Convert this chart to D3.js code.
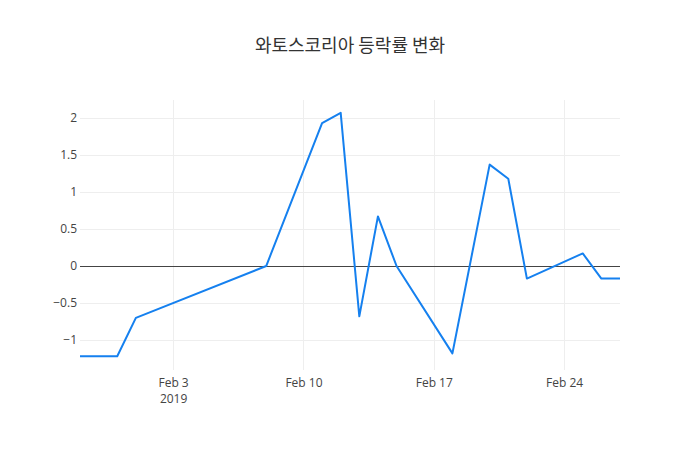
<!DOCTYPE html>
<html><head><meta charset="utf-8">
<script src="https://cdn.jsdelivr.net/npm/d3@7"></script>
<style>body{margin:0;background:#fff}svg{display:block}</style>
</head><body><svg id="c" width="700" height="450"></svg>
<script>
const title = "와토스코리아 등락률 변화";
const dates = ["2019-01-29","2019-01-31","2019-02-01","2019-02-08","2019-02-11","2019-02-12","2019-02-13","2019-02-14","2019-02-15","2019-02-18","2019-02-20","2019-02-21","2019-02-22","2019-02-25","2019-02-26","2019-02-27"];
const values = [-1.22,-1.22,-0.70,0.0,1.93,2.07,-0.68,0.67,0.0,-1.18,1.37,1.18,-0.17,0.17,-0.17,-0.17];
const yTicks = [-1,-0.5,0,0.5,1,1.5,2];
const xTickDates = ["2019-02-03","2019-02-10","2019-02-17","2019-02-24"];
const xTickLabels = ["Feb 3","Feb 10","Feb 17","Feb 24"];
const yTickLabels = ["−1","−0.5","0","0.5","1","1.5","2"];

const parse = d3.utcParse("%Y-%m-%d");
const data = dates.map((d,i)=>({x:parse(d),y:values[i]}));
const m = {l:80,r:80,t:100,b:80}, W=700, H=450;
const svg = d3.select("#c");
const x = d3.scaleUtc().domain([parse(dates[0]), parse(dates[dates.length-1])]).range([m.l, W-m.r]);
const y = d3.scaleLinear().domain([-1.405, 2.243]).range([H-m.b, m.t]);
const font = "'Open Sans', Verdana, sans-serif";
const snap = v => Math.round(v) + 0.5;

// grid
const yAxis = d3.axisLeft(y).tickValues(yTicks).tickSize(0).tickFormat((d,i)=>yTickLabels[i]);
const gy = svg.append("g").attr("transform",`translate(${m.l},0)`).call(yAxis);
gy.select(".domain").remove();
gy.selectAll("text").attr("x",-3).attr("fill","#444").style("font-family",font).style("font-size","12px");
svg.append("g").selectAll("line").data(yTicks.filter(d=>d!==0)).join("line")
  .attr("x1",m.l).attr("x2",W-m.r).attr("y1",d=>snap(y(d))).attr("y2",d=>snap(y(d)))
  .attr("stroke","#eee").attr("stroke-width",1);
const xt = xTickDates.map(parse);
svg.append("g").selectAll("line").data(xt).join("line")
  .attr("x1",d=>snap(x(d))).attr("x2",d=>snap(x(d))).attr("y1",m.t).attr("y2",H-m.b)
  .attr("stroke","#eee").attr("stroke-width",1);
const xAxis = d3.axisBottom(x).tickValues(xt).tickSize(0).tickFormat((d,i)=>xTickLabels[i]);
const gx = svg.append("g").attr("transform",`translate(0,${H-m.b})`).call(xAxis);
gx.select(".domain").remove();
gx.selectAll("text").attr("y",8).attr("dy","0.71em").attr("fill","#444").style("font-family",font).style("font-size","12px");
gx.selectAll(".tick").filter((d,i)=>i===0).append("text")
  .attr("y",24).attr("dy","0.71em").attr("fill","#444").attr("text-anchor","middle")
  .style("font-family",font).style("font-size","12px").text("2019");
// zero line
svg.append("line").attr("x1",m.l).attr("x2",W-m.r).attr("y1",snap(y(0))).attr("y2",snap(y(0)))
  .attr("stroke","#444").attr("stroke-width",1);
// line
svg.append("path").datum(data)
  .attr("d",d3.line().x(d=>x(d.x)).y(d=>y(d.y)))
  .attr("fill","none").attr("stroke","#1580ef").attr("stroke-width",2).attr("stroke-linejoin","round");
// title
svg.append("text").attr("x",W/2).attr("y",44).attr("dominant-baseline","central")
  .attr("text-anchor","middle").attr("fill","#333")
  .style("font-family","'Noto Sans CJK KR', 'Open Sans', sans-serif").style("font-size","18px").text(title);
</script></body></html>
